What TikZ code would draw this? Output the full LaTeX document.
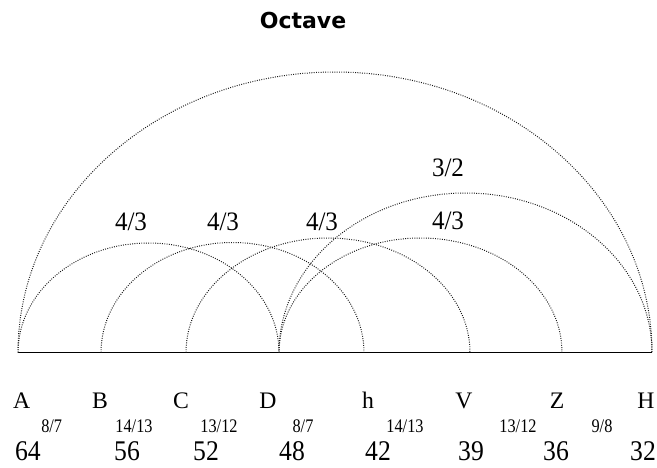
\documentclass[tikz,border=0pt]{standalone}
\usepackage{fontspec}
\setmainfont{Liberation Serif}
\newfontfamily\titlefont{DejaVu Sans}
\newfontfamily\ratiofont[FakeStretch=0.85]{Liberation Serif}
\newfontfamily\numfont[FakeStretch=0.9]{Liberation Serif}
\newfontfamily\arcfont[FakeStretch=0.94]{Liberation Serif}

\begin{document}
\begin{tikzpicture}[x=1pt,y=-1pt,
    arcline/.style={black!90,line width=1pt,dash pattern=on 0.9pt off 1.4pt},
    letter/.style={anchor=base,inner sep=0pt,font=\fontsize{23.7}{24}\selectfont},
    ratio/.style={anchor=base,inner sep=0pt,font=\ratiofont\fontsize{19.2}{20}\selectfont},
    number/.style={anchor=base,inner sep=0pt,font=\numfont\fontsize{28.5}{30}\selectfont},
    interval/.style={anchor=base,inner sep=0pt,font=\arcfont\fontsize{26.6}{27}\selectfont}]
    \useasboundingbox (0,0) rectangle (657,467);

    % Title
    \node[anchor=base,inner sep=0pt,font=\titlefont\bfseries\fontsize{22}{22}\selectfont] (title) at (303,28) {Octave};

    % Points on the string
    \coordinate (pA) at (18,352.5);
    \coordinate (pB) at (101,352.5);
    \coordinate (pC) at (186,352.5);
    \coordinate (pD) at (279,352.5);
    \coordinate (ph) at (364,352.5);
    \coordinate (pV) at (470,352.5);
    \coordinate (pZ) at (562,352.5);
    \coordinate (pH) at (652,352.5);

    % String
    \draw[line width=1.5pt] (pA) -- (pH);

    % Octave
    \draw[arcline] (pA) arc[start angle=180,end angle=360,x radius=317,y radius=280.5];

    % Fourths
    \draw[arcline] (pA) arc[start angle=180,end angle=360,x radius=130.5,y radius=109.5];
    \draw[arcline] (pB) arc[start angle=180,end angle=360,x radius=131.5,y radius=110];
    \draw[arcline] (pC) arc[start angle=180,end angle=360,x radius=142,y radius=114.5];
    \draw[arcline] (pD) arc[start angle=180,end angle=360,x radius=141.5,y radius=114.5];

    % Fifth
    \draw[arcline] (pD) arc[start angle=180,end angle=360,x radius=186.5,y radius=159.5];

    % Interval labels
    \node[interval] (f1) at (131,230) {4/3};
    \node[interval] (f2) at (223,230) {4/3};
    \node[interval] (f3) at (322,230) {4/3};
    \node[interval] (f4) at (448,229) {4/3};
    \node[interval] (q1) at (448,176) {3/2};

    % Letters
    \node[letter] (lA) at (21.7,408) {A};
    \node[letter] (lB) at (100,408) {B};
    \node[letter] (lC) at (181,408) {C};
    \node[letter] (lD) at (268,408) {D};
    \node[letter] (lh) at (368,408) {h};
    \node[letter] (lV) at (464,408) {V};
    \node[letter] (lZ) at (557,408) {Z};
    \node[letter] (lH) at (646,408) {H};

    % Ratios between neighbours
    \node[ratio] (r1) at (51.7,432.5) {8/7};
    \node[ratio] (r2) at (134,432.5) {14/13};
    \node[ratio] (r3) at (219,432.5) {13/12};
    \node[ratio] (r4) at (303,432.5) {8/7};
    \node[ratio] (r5) at (405,432.5) {14/13};
    \node[ratio] (r6) at (518,432.5) {13/12};
    \node[ratio] (r7) at (602,432.5) {9/8};

    % String lengths
    \node[number] (n1) at (28,460) {64};
    \node[number] (n2) at (127,460) {56};
    \node[number] (n3) at (206,460) {52};
    \node[number] (n4) at (292,460) {48};
    \node[number] (n5) at (378,460) {42};
    \node[number] (n6) at (471,460) {39};
    \node[number] (n7) at (556,460) {36};
    \node[number] (n8) at (643,460) {32};

\end{tikzpicture}
\end{document}
